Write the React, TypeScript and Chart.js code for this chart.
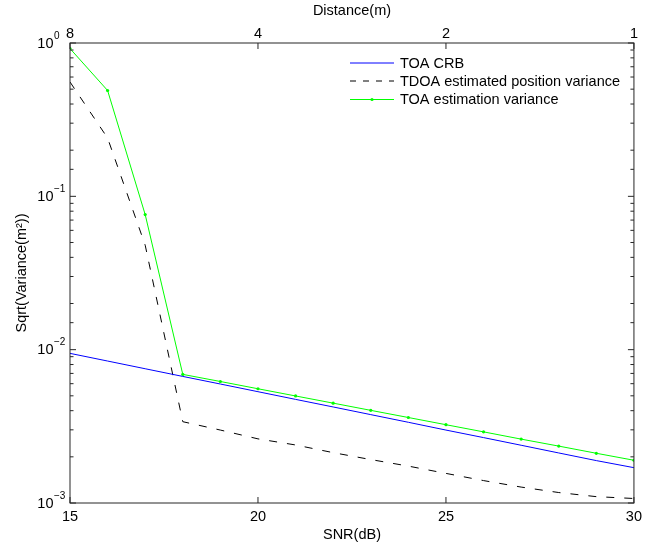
import React, { useEffect, useRef } from 'react';
import { Chart, registerables } from 'chart.js';

Chart.register(...registerables);

// ---- data ----
const snrDb = [15, 16, 17, 18, 19, 20, 21, 22, 23, 24, 25, 26, 27, 28, 29, 30];
const toaCrb = [0.00946, 0.00843, 0.00751, 0.00669, 0.00597, 0.00532, 0.00474, 0.00423, 0.00377, 0.00336, 0.00299, 0.00267, 0.00238, 0.00212, 0.00189, 0.0017];
const tdoaPosVar = [0.557, 0.24, 0.048, 0.00339, 0.00299, 0.00262, 0.00239, 0.00213, 0.00192, 0.00174, 0.00156, 0.0014, 0.00127, 0.00117, 0.0011, 0.00107];
const toaEstVar = [0.92, 0.49, 0.076, 0.0069, 0.0062, 0.00556, 0.00499, 0.00448, 0.00402, 0.00361, 0.00324, 0.00291, 0.00261, 0.00235, 0.00211, 0.0019];
const seriesNames = ['TOA CRB', 'TDOA estimated position variance', 'TOA estimation variance'];

const snrTicks = [15, 20, 25, 30];
const distanceTickSnr = [15, 20, 25, 30];
const distanceTickLabels = ['8', '4', '2', '1'];
const yDecades = [1, 0.1, 0.01, 0.001];
const yExponents = ['0', '\u22121', '\u22122', '\u22123'];

const FONT = '"Liberation Sans", Arial, Helvetica, sans-serif';
const FS = 14.5;

const framePlugin = {
  id: 'matlabFrame',
  afterDraw(chart: any) {
    const { ctx, chartArea: a, scales } = chart;
    ctx.save();
    ctx.strokeStyle = '#262626';
    ctx.lineWidth = 1;
    ctx.setLineDash([]);
    ctx.strokeRect(a.left, a.top, a.right - a.left, a.bottom - a.top);

    ctx.beginPath();
    // bottom ticks (inside)
    for (const t of scales.x.ticks) {
      const px = scales.x.getPixelForValue(t.value);
      ctx.moveTo(px, a.bottom);
      ctx.lineTo(px, a.bottom - 6);
    }
    // top ticks (inside)
    for (const t of scales.x2.ticks) {
      const px = scales.x2.getPixelForValue(t.value);
      ctx.moveTo(px, a.top);
      ctx.lineTo(px, a.top + 6);
    }
    // y ticks on both sides
    for (const t of scales.y.ticks) {
      const v = t.value;
      const lg = Math.log10(v);
      const major = Math.abs(lg - Math.round(lg)) < 1e-6;
      const len = major ? 6 : 3.5;
      const py = scales.y.getPixelForValue(v);
      ctx.moveTo(a.left, py);
      ctx.lineTo(a.left + len, py);
      ctx.moveTo(a.right, py);
      ctx.lineTo(a.right - len, py);
    }
    ctx.stroke();

    // y tick labels with superscript exponents
    ctx.fillStyle = '#000';
    ctx.textBaseline = 'middle';
    yDecades.forEach((v, i) => {
      const py = scales.y.getPixelForValue(v);
      ctx.font = `${FS}px ${FONT}`;
      ctx.textAlign = 'right';
      ctx.fillText('10', a.left - 16.5, py + 0.5);
      ctx.font = `10px ${FONT}`;
      ctx.textAlign = 'left';
      ctx.fillText(yExponents[i], a.left - 16, py - 7);
    });

    // legend (inside, top-right)
    const rows = [20, 38, 56.5];
    chart.data.datasets.forEach((ds: any, i: number) => {
      const y = a.top + rows[i];
      const x0 = a.left + 280;
      const x1 = a.left + 324;
      ctx.strokeStyle = ds.borderColor;
      ctx.lineWidth = ds.borderWidth;
      ctx.setLineDash(ds.borderDash && ds.borderDash.length ? [6, 7] : []);
      ctx.beginPath();
      ctx.moveTo(x0, y);
      ctx.lineTo(x1, y);
      ctx.stroke();
      ctx.setLineDash([]);
      if (ds.pointRadius > 0) {
        ctx.fillStyle = ds.pointBackgroundColor;
        ctx.beginPath();
        ctx.arc((x0 + x1) / 2, y, ds.pointRadius, 0, Math.PI * 2);
        ctx.fill();
      }
      ctx.fillStyle = '#000';
      ctx.font = `${FS}px ${FONT}`;
      ctx.textAlign = 'left';
      ctx.textBaseline = 'middle';
      ctx.fillText(ds.label, a.left + 330, y + 0.5);
    });
    ctx.restore();
  },
};

export default function App() {
  const ref = useRef<HTMLCanvasElement | null>(null);

  useEffect(() => {
    if (!ref.current) return;
    const pts = (arr: number[]) => snrDb.map((x, i) => ({ x, y: arr[i] }));
    const chart = new Chart(ref.current, {
      type: 'line',
      data: {
        datasets: [
          {
            label: seriesNames[0],
            data: pts(toaCrb),
            borderColor: '#0000ff',
            backgroundColor: '#0000ff',
            borderWidth: 1,
            pointRadius: 0,
            tension: 0,
            xAxisID: 'x',
            yAxisID: 'y',
          },
          {
            label: seriesNames[1],
            data: pts(tdoaPosVar),
            borderColor: '#000000',
            backgroundColor: '#000000',
            borderWidth: 1,
            borderDash: [8, 10],
            pointRadius: 0,
            tension: 0,
            xAxisID: 'x',
            yAxisID: 'y',
          },
          {
            label: seriesNames[2],
            data: pts(toaEstVar),
            borderColor: '#00ff00',
            backgroundColor: '#00ff00',
            borderWidth: 1,
            pointRadius: 1.6,
            pointBackgroundColor: '#00ff00',
            pointBorderWidth: 0,
            pointStyle: 'circle',
            tension: 0,
            xAxisID: 'x',
            yAxisID: 'y',
          },
        ],
      },
      options: {
        responsive: false,
        animation: false,
        events: [],
        layout: { padding: { left: 0, right: 7, top: 0, bottom: 0 } },
        plugins: {
          legend: { display: false },
          tooltip: { enabled: false },
        },
        scales: {
          x: {
            type: 'linear',
            position: 'bottom',
            min: 15,
            max: 30,
            afterBuildTicks: (s: any) => {
              s.ticks = snrTicks.map((v) => ({ value: v }));
            },
            afterFit: (s: any) => {
              s.height = 43;
            },
            grid: { display: false, drawTicks: false },
            border: { display: false },
            ticks: {
              color: '#000',
              padding: 5,
              maxRotation: 0,
              font: { family: FONT, size: FS },
              callback: (v: any) => String(v),
            },
            title: {
              display: true,
              text: 'SNR(dB)',
              color: '#000',
              font: { family: FONT, size: FS },
              padding: { top: 0, bottom: 2 },
            },
          },
          x2: {
            type: 'linear',
            position: 'top',
            min: 15,
            max: 30,
            afterBuildTicks: (s: any) => {
              s.ticks = distanceTickSnr.map((v) => ({ value: v }));
            },
            afterFit: (s: any) => {
              s.height = 43;
            },
            grid: { display: false, drawTicks: false },
            border: { display: false },
            ticks: {
              color: '#000',
              padding: 0,
              maxRotation: 0,
              font: { family: FONT, size: FS },
              callback: (v: any) => {
                const idx = distanceTickSnr.indexOf(Number(v));
                return idx >= 0 ? distanceTickLabels[idx] : '';
              },
            },
            title: {
              display: true,
              text: 'Distance(m)',
              color: '#000',
              font: { family: FONT, size: FS },
              padding: { top: 2, bottom: 0 },
            },
          },
          y: {
            type: 'logarithmic',
            position: 'left',
            min: 0.001,
            max: 1,
            afterFit: (s: any) => {
              s.width = 70;
            },
            grid: { display: false, drawTicks: false },
            border: { display: false },
            ticks: { display: false },
            title: {
              display: true,
              text: 'Sqrt(Variance(m\u00B2))',
              color: '#000',
              font: { family: FONT, size: FS },
              padding: { top: 13, bottom: 0 },
            },
          },
        },
      },
      plugins: [framePlugin],
    } as any);
    return () => chart.destroy();
  }, []);

  return (
    <div style={{ position: 'absolute', left: 0, top: 0, width: 647, height: 546, background: '#fff' }}>
      <canvas ref={ref} width={647} height={546} style={{ display: 'block' }} />
    </div>
  );
}
